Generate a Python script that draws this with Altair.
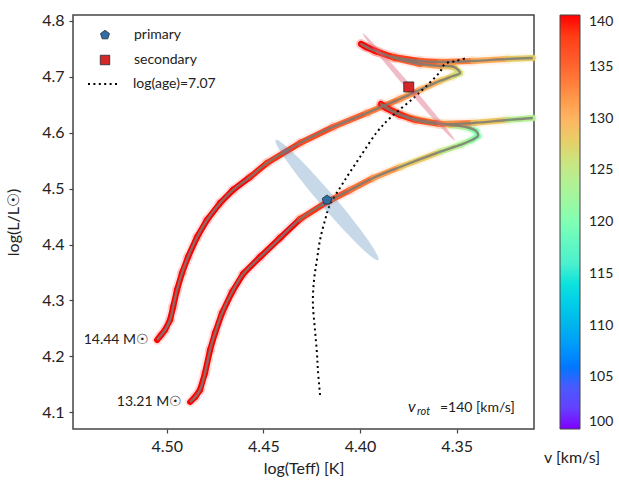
import altair as alt
import pandas as pd

# ---------------- data ----------------
# Track 1 : 14.44 Msun
t1_teff = [4.5050, 4.5029, 4.5009, 4.4983, 4.4967, 4.4947, 4.4921, 4.4890, 4.4843, 4.4792,
           4.4724, 4.4657, 4.4569, 4.4481, 4.4310, 4.4140, 4.3964, 4.3793, 4.3690, 4.3587,
           4.3519, 4.3483,
           4.3514, 4.3587, 4.3690, 4.3820, 4.3923, 4.3995,
           4.3970, 4.3907, 4.3830, 4.3690, 4.3587, 4.3416, 4.3240, 4.3106]
t1_logl = [4.2293, 4.2383, 4.2472, 4.2651, 4.2884, 4.3188, 4.3492, 4.3778, 4.4136, 4.4440,
           4.4744, 4.4977, 4.5209, 4.5460, 4.5818, 4.6104, 4.6354, 4.6605, 4.6766, 4.6927,
           4.7016, 4.7070,
           4.7177, 4.7195, 4.7231, 4.7338, 4.7463, 4.7589,
           4.7535, 4.7445, 4.7356, 4.7284, 4.7267, 4.7284, 4.7320, 4.7338]
t1_v = [140, 140, 140, 140, 140, 140, 140, 140, 140, 140,
        140, 140, 140, 139, 138, 136, 134, 133, 131, 129,
        127, 126,
        127, 130, 133, 137, 139, 140,
        140, 140, 139, 137, 135, 132, 129, 127]

# Track 2 : 13.21 Msun
t2_teff = [4.4879, 4.4853, 4.4828, 4.4802, 4.4776, 4.4750, 4.4714, 4.4662, 4.4605, 4.4517,
           4.4414, 4.4310, 4.4171, 4.4051, 4.3933, 4.3793, 4.3587, 4.3483, 4.3421, 4.3390,
           4.3400, 4.3452, 4.3535, 4.3639, 4.3742, 4.3830, 4.3892,
           4.3866, 4.3794, 4.3716, 4.3587, 4.3416, 4.3240, 4.3106]
t2_logl = [4.1184, 4.1274, 4.1399, 4.1703, 4.2114, 4.2419, 4.2776, 4.3152, 4.3474, 4.3778,
           4.4118, 4.4458, 4.4762, 4.4977, 4.5191, 4.5388, 4.5657, 4.5782, 4.5871, 4.5943,
           4.6032, 4.6104, 4.6140, 4.6193, 4.6265, 4.6390, 4.6515,
           4.6444, 4.6318, 4.6229, 4.6157, 4.6175, 4.6229, 4.6265]
t2_v = [140, 140, 140, 140, 140, 140, 140, 140, 140, 140,
        140, 140, 137, 135, 133, 130, 126, 124, 122, 120,
        120, 122, 125, 129, 133, 137, 140,
        140, 140, 139, 136, 131, 126, 122]

track_labels = ["14.44 M☉", "13.21 M☉"]

# Isochrone log(age)=7.07
iso_teff = [4.4207, 4.4218, 4.4223, 4.4233, 4.4244, 4.4238, 4.4223, 4.4207, 4.4181, 4.4156,
            4.4088, 4.4000, 4.3912, 4.3845, 4.3706, 4.3587, 4.3561, 4.3504, 4.3447]
iso_logl = [4.1309, 4.1757, 4.2061, 4.2472, 4.2955, 4.3367, 4.3725, 4.4082, 4.4440, 4.4708,
            4.5102, 4.5567, 4.6014, 4.6265, 4.6676, 4.7088, 4.7231, 4.7284, 4.7338]

# Observed stars
star_names = ["primary", "secondary"]
star_teff = [4.4171, 4.3748]
star_logl = [4.4798, 4.6820]

# colour bar
v_ticks = [100, 105, 110, 115, 120, 125, 130, 135, 140]
rainbow = ["#8000ff", "#4062fa", "#00b4ec", "#40ecd4", "#80ffb4",
           "#c0ec8e", "#ffb462", "#ff6232", "#ff0000"]

x_ticks = [4.35, 4.40, 4.45, 4.50]
y_ticks = [4.1, 4.2, 4.3, 4.4, 4.5, 4.6, 4.7, 4.8]

# ---------------- tables ----------------
def segs(teff, logl, v, name):
    rows = []
    for i in range(len(teff) - 1):
        rows.append(dict(track=name, i=i, x=teff[i], y=logl[i],
                         x2=teff[i + 1], y2=logl[i + 1], v=(v[i] + v[i + 1]) / 2))
    return rows

seg_df = pd.DataFrame(segs(t1_teff, t1_logl, t1_v, "t1") + segs(t2_teff, t2_logl, t2_v, "t2"))
pts_df = pd.DataFrame(
    [dict(track="t1", i=i, x=a, y=b) for i, (a, b) in enumerate(zip(t1_teff, t1_logl))] +
    [dict(track="t2", i=i, x=a, y=b) for i, (a, b) in enumerate(zip(t2_teff, t2_logl))])
iso_df = pd.DataFrame(dict(x=iso_teff, y=iso_logl, i=range(len(iso_teff)),
                           iso=["log(age)=7.07"] * len(iso_teff)))
star_df = pd.DataFrame(dict(star=star_names, x=star_teff, y=star_logl))
lab_df = pd.DataFrame(dict(x=[t1_teff[0], t2_teff[0]], y=[t1_logl[0], t2_logl[0]],
                           label=track_labels))

FONT = "Lato"
xs = alt.Scale(domain=[4.3100, 4.5485], reverse=True, nice=False, zero=False)
ys = alt.Scale(domain=[4.0701, 4.8107], nice=False, zero=False)
X = alt.X("x:Q", scale=xs, axis=alt.Axis(values=x_ticks, format=".2f", title="log(Teff) [K]",
                                         labelPadding=5, titlePadding=6))
Y = alt.Y("y:Q", scale=ys, axis=alt.Axis(values=y_ticks, format=".1f", title="log(L/L☉)",
                                         labelPadding=5, titlePadding=20))
cscale = alt.Scale(domain=v_ticks, range=rainbow)

base_seg = alt.Chart(seg_df)
main = base_seg.mark_rule(strokeWidth=6, strokeCap="round").encode(
    x=X, y=Y, x2="x2:Q", y2="y2:Q",
    color=alt.Color("v:Q", scale=cscale, legend=alt.Legend(
        title=None, orient="right", offset=25, padding=0, direction="vertical",
        gradientLength=414, gradientThickness=20, values=v_ticks,
        gradientStrokeColor="#444", gradientStrokeWidth=1,
        labelFont=FONT, labelFontSize=14, labelColor="#222", labelOffset=9)))
halo = base_seg.mark_rule(strokeWidth=10, strokeCap="round", opacity=0.12).encode(
    x=X, y=Y, x2="x2:Q", y2="y2:Q", color=alt.Color("v:Q", scale=cscale, legend=None))
center = alt.Chart(pts_df).mark_line(strokeWidth=2.4, color="#7a7a72", opacity=0.85,
                                     strokeJoin="round", interpolate="catmull-rom").encode(
    x=X, y=Y, detail="track:N", order="i:Q")

iso = alt.Chart(iso_df).mark_line(strokeWidth=2, color="black", interpolate="catmull-rom").encode(
    x=X, y=Y, order="i:Q",
    strokeDash=alt.StrokeDash("iso:N", scale=alt.Scale(domain=["log(age)=7.07"], range=[[2, 3.4]]),
                              legend=alt.Legend(title=None, orient="none", legendX=14, legendY=52,
                                                padding=0, symbolType="stroke", symbolSize=1024,
                                                symbolStrokeColor="black", symbolStrokeWidth=2,
                                                symbolDash=[2, 3.4], labelOffset=12,
                                                labelFont=FONT, labelFontSize=14, labelColor="#222")))

ell_blue = alt.Chart(star_df.iloc[[0]]).mark_point(
    shape="M-1,0A1,0.095,0,1,1,1,0A1,0.095,0,1,1,-1,0Z", size=24964, angle=49.5,
    filled=True, color="#4682b4", opacity=0.3).encode(x=X, y=Y)
ell_pink = alt.Chart(star_df.iloc[[1]]).mark_point(
    shape="M-1,0A1,0.04,0,1,1,1,0A1,0.04,0,1,1,-1,0Z", size=19881, angle=49.3,
    filled=True, color="#d9607a", opacity=0.42).encode(x=X, y=Y)

pent = "M0,-1L0.951,-0.309L0.588,0.809L-0.588,0.809L-0.951,-0.309Z"
stars = alt.Chart(star_df).mark_point(filled=True, size=100, stroke="#1e2a36",
                                      strokeWidth=0.8, opacity=1).encode(
    x=X, y=Y,
    fill=alt.Fill("star:N", scale=alt.Scale(domain=star_names, range=["#2f6ea5", "#d62728"]),
                  legend=alt.Legend(title=None, orient="none", legendX=25, legendY=13,
                                    padding=0, rowPadding=11, symbolSize=90,
                                    symbolStrokeColor="#1e2a36", symbolStrokeWidth=0.8,
                                    labelOffset=22, labelFont=FONT, labelFontSize=14,
                                    labelColor="#222")),
    shape=alt.Shape("star:N", scale=alt.Scale(domain=star_names, range=[pent, "square"])))

labels = alt.Chart(lab_df).mark_text(align="right", baseline="middle", dx=-8, font=FONT,
                                      fontSize=14, color="#222").encode(x=X, y=Y, text="label:N")

vrot_v = alt.Chart(lab_df.iloc[[0]]).mark_text(align="left", baseline="alphabetic", font=FONT,
                                               fontSize=16, fontStyle="italic", color="#222").encode(
    x=alt.value(335), y=alt.value(397), text=alt.value("v"))
vrot_s = alt.Chart(lab_df.iloc[[0]]).mark_text(align="left", baseline="alphabetic", font=FONT,
                                               fontSize=11, fontStyle="italic", color="#222").encode(
    x=alt.value(344), y=alt.value(400), text=alt.value("rot"))
vrot_t = alt.Chart(lab_df.iloc[[0]]).mark_text(align="left", baseline="alphabetic", font=FONT,
                                               fontSize=14, color="#222").encode(
    x=alt.value(367), y=alt.value(397), text=alt.value("=140  [km/s]"))
cb_title = alt.Chart(lab_df.iloc[[0]]).mark_text(align="center", baseline="middle", font=FONT,
                                                 fontSize=16, color="#222").encode(
    x=alt.value(499), y=alt.value(443), text=alt.value("v  [km/s]"))

chart = alt.layer(main, halo, center, iso, ell_pink, ell_blue, stars, labels,
                  vrot_v, vrot_s, vrot_t, cb_title).resolve_legend(
    color="independent").properties(
    width=461, height=414,
    autosize=alt.AutoSizeParams(type="none"),
    padding={"left": 73, "top": 15, "right": 85, "bottom": 54},
    background="white",
).configure_view(stroke="#444", strokeWidth=1.5).configure_axis(
    domain=False, grid=False, tickColor="#444", tickSize=4, tickWidth=1.2,
    labelFont=FONT, labelFontSize=16, labelColor="#222",
    titleFont=FONT, titleFontSize=16, titleFontWeight="normal", titleColor="#222")

chart.save("out.html", embed_options={"renderer": "svg", "actions": False})
